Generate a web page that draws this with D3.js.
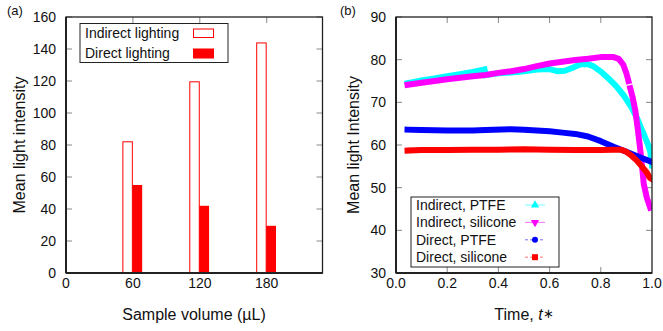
<!DOCTYPE html>
<html><head><meta charset="utf-8">
<script src="https://cdn.jsdelivr.net/npm/d3@7"></script>
<style>
body{margin:0;background:#fff;}
svg text{font-family:"Liberation Sans",Arial,Helvetica,sans-serif;fill:#111;}
</style></head>
<body><svg id="c" width="663" height="331"></svg>
<script>
// ---------- Panel (a) data ----------
const volumes = [60, 120, 180];
const indirectLighting = [82, 119.5, 143.8];
const directLighting = [55, 42, 29.5];
const aXTicks = [0, 60, 120, 180];
const aYTicks = [0, 20, 40, 60, 80, 100, 120, 140, 160];

// ---------- Panel (b) data: [t*, intensity] ----------
const indirectPTFE = [
  [0.045,74.5],[0.1,75.1],[0.15,75.6],[0.2,76.1],[0.25,76.6],[0.3,77.1],[0.346,77.7],[null,null],
  [0.35,76.4],[0.4,76.8],[0.45,77.0],[0.5,77.3],[0.55,77.7],[0.6,77.8],[0.63,77.3],[0.66,77.4],
  [0.69,78.1],[0.72,78.9],[0.745,79.0],[0.77,78.5],[0.8,77.2],[0.83,75.6],[0.86,73.8],[0.89,71.6],
  [0.92,68.8],[0.94,66.5],[0.96,63.6],[0.98,60.8],[0.993,58.5],[1.0,55.2]
];
const indirectSilicone = [
  [0.045,74.1],[0.1,74.6],[0.2,75.4],[0.3,76.1],[0.35,76.4],[0.4,76.9],[0.45,77.3],[0.5,77.8],
  [0.55,78.5],[0.6,79.1],[0.65,79.5],[0.7,79.9],[0.75,80.2],[0.8,80.6],[0.85,80.6],[0.87,80.2],
  [0.888,78.8],[0.9,76.8],[0.908,75.0],[null,null],[0.915,73.3],[0.925,71.0],[0.935,68.0],
  [0.945,63.5],[0.954,59.0],[0.962,54.5],[0.968,50.8],[0.98,47.6],[0.993,45.3]
];
const directPTFE = [
  [0.045,63.6],[0.1,63.5],[0.2,63.4],[0.3,63.4],[0.35,63.5],[0.45,63.7],[0.5,63.6],[0.6,63.2],
  [0.65,62.9],[0.7,62.6],[0.75,62.0],[0.8,60.9],[0.85,59.6],[0.9,58.4],[0.95,57.2],[1.0,56.0]
];
const directSilicone = [
  [0.045,58.7],[0.1,58.8],[0.2,58.8],[0.3,58.9],[0.4,58.9],[0.5,59.0],[0.6,58.9],[0.7,58.8],
  [0.8,58.8],[0.85,58.9],[0.88,58.9],[0.9,58.4],[0.92,57.5],[0.94,56.4],[0.96,55.0],[0.98,53.5],
  [0.99,52.4],[1.0,52.0]
];
const bXTicks = [0, 0.2, 0.4, 0.6, 0.8, 1.0];
const bYTicks = [30, 40, 50, 60, 70, 80, 90];

const seriesB = [
  {name:"Indirect, PTFE", data:indirectPTFE, color:"#00ffff", marker:"triangleUp", dash:null},
  {name:"Indirect, silicone", data:indirectSilicone, color:"#ff00ff", marker:"triangleDown", dash:null},
  {name:"Direct, PTFE", data:directPTFE, color:"#0000ff", marker:"circle", dash:"3,2"},
  {name:"Direct, silicone", data:directSilicone, color:"#ff0000", marker:"square", dash:"3,2"}
];

const svg = d3.select("#c");
const AX = "#222", TK = "#888";

function frame(g, x, y, xt, yt, fmtX, fmtY, mirrorX) {
  const [x0,x1] = x.range(), [y0,y1] = y.range();
  // ticks (inward)
  yt.forEach(v=>{
    g.append("line").attr("x1",x0).attr("x2",x0+6).attr("y1",y(v)).attr("y2",y(v)).attr("stroke",TK).attr("stroke-width",1);
    g.append("line").attr("x1",x1).attr("x2",x1-6).attr("y1",y(v)).attr("y2",y(v)).attr("stroke",TK).attr("stroke-width",1);
    g.append("text").attr("x",x0-10).attr("y",y(v)).attr("text-anchor","end").attr("dy","0.36em").attr("font-size",14).text(fmtY(v));
  });
  xt.forEach(v=>{
    if (mirrorX(v)) {
      g.append("line").attr("x1",x(v)).attr("x2",x(v)).attr("y1",y0).attr("y2",y0-6).attr("stroke",TK).attr("stroke-width",1);
      g.append("line").attr("x1",x(v)).attr("x2",x(v)).attr("y1",y1).attr("y2",y1+6).attr("stroke",TK).attr("stroke-width",1);
    }
    g.append("text").attr("x",x(v)).attr("y",y0+15).attr("text-anchor","middle").attr("font-size",14).text(fmtX(v));
  });
}
function border(g, x, y) {
  const [x0,x1] = x.range(), [y0,y1] = y.range();
  g.append("rect").attr("x",x0).attr("y",y1).attr("width",x1-x0).attr("height",y0-y1)
    .attr("fill","none").attr("stroke",AX).attr("stroke-width",1.3);
  g.append("line").attr("x1",x0).attr("x2",x1).attr("y1",y0).attr("y2",y0).attr("stroke",AX).attr("stroke-width",2);
  g.append("line").attr("x1",x0).attr("x2",x0).attr("y1",y0).attr("y2",y1).attr("stroke",AX).attr("stroke-width",2);
}

// ================= Panel (a) =================
{
  const g = svg.append("g");
  const x = d3.scaleLinear().domain([0,230]).range([66,322.5]);
  const y = d3.scaleLinear().domain([0,160]).range([273,17]);
  frame(g, x, y, aXTicks, aYTicks, d3.format("d"), d3.format("d"), v=>v>0);
  const bw = 8.5, off = 0.5;
  volumes.forEach((v,i)=>{
    g.append("rect").attr("x",x(v-bw-off)).attr("y",y(indirectLighting[i]))
      .attr("width",x(v-off)-x(v-bw-off)).attr("height",y(0)-y(indirectLighting[i]))
      .attr("fill","#fff").attr("stroke","#ff0000").attr("stroke-width",1);
    g.append("rect").attr("x",x(v-off)).attr("y",y(directLighting[i]))
      .attr("width",x(v-off+bw+0.3)-x(v-off)).attr("height",y(0)-y(directLighting[i]))
      .attr("fill","#ff0000");
  });
  border(g, x, y);
  // legend
  const L = g.append("g");
  L.append("rect").attr("x",80).attr("y",23.5).attr("width",148).attr("height",39).attr("fill","#fff").attr("stroke",AX).attr("stroke-width",1);
  L.append("text").attr("x",85).attr("y",38).attr("font-size",14).text("Indirect lighting");
  L.append("text").attr("x",85).attr("y",57.5).attr("font-size",14).text("Direct lighting");
  L.append("rect").attr("x",193.5).attr("y",29).attr("width",20).attr("height",8.5).attr("fill","#fff").attr("stroke","#ff0000").attr("stroke-width",1);
  L.append("rect").attr("x",193).attr("y",48.5).attr("width",21).attr("height",10).attr("fill","#ff0000");
  // titles
  g.append("text").attr("transform","translate(25,145) rotate(-90)").attr("text-anchor","middle").attr("font-size",16).text("Mean light intensity");
  g.append("text").attr("x",194).attr("y",320).attr("text-anchor","middle").attr("font-size",16).text("Sample volume (\u00b5L)");
  g.append("text").attr("x",7).attr("y",15).attr("font-size",13).text("(a)");
}

// ================= Panel (b) =================
{
  const g = svg.append("g");
  const x = d3.scaleLinear().domain([0,1]).range([396,652]);
  const y = d3.scaleLinear().domain([30,90]).range([273,17]);
  frame(g, x, y, bXTicks, bYTicks, d3.format(".1f"), d3.format("d"), v=>v>0 && v<1);
  const line = d3.line().defined(d=>d[0]!=null).x(d=>x(d[0])).y(d=>y(d[1]));
  const clipId = "clipb";
  svg.append("defs").append("clipPath").attr("id",clipId).append("rect")
    .attr("x",396).attr("y",17).attr("width",256).attr("height",256);
  const cg = g.append("g").attr("clip-path",`url(#${clipId})`);
  seriesB.forEach(s=>{
    cg.append("path").attr("d",line(s.data)).attr("fill","none").attr("stroke",s.color)
      .attr("stroke-width",6).attr("stroke-linejoin","round").attr("stroke-linecap","square");
  });
  border(g, x, y);
  // legend
  const L = g.append("g");
  L.append("rect").attr("x",411).attr("y",197).attr("width",148).attr("height",70).attr("fill","#fff").attr("stroke",AX).attr("stroke-width",1);
  const sym = {
    triangleUp: d3.symbol().type(d3.symbolTriangle).size(30),
    triangleDown: d3.symbol().type(d3.symbolTriangle).size(30),
    circle: d3.symbol().type(d3.symbolCircle).size(28),
    square: d3.symbol().type(d3.symbolSquare).size(36)
  };
  seriesB.forEach((s,i)=>{
    const by = 210 + i*17.4;
    const my = by - 5;
    L.append("text").attr("x",416).attr("y",by).attr("font-size",14).text(s.name);
    L.append("line").attr("x1",525).attr("x2",545).attr("y1",my).attr("y2",my)
      .attr("stroke",s.color).attr("stroke-width",0.8).attr("stroke-opacity",0.7)
      .attr("stroke-dasharray",s.dash);
    L.append("path").attr("d",sym[s.marker]())
      .attr("transform",`translate(535,${my})` + (s.marker==="triangleDown"?" rotate(180)":""))
      .attr("fill",s.color);
  });
  // titles
  g.append("text").attr("transform","translate(359,145) rotate(-90)").attr("text-anchor","middle").attr("font-size",16).text("Mean light Intensity");
  const xt = g.append("text").attr("x",524).attr("y",320).attr("text-anchor","middle").attr("font-size",16);
  xt.append("tspan").text("Time, ");
  xt.append("tspan").attr("font-style","italic").text("t");
  xt.append("tspan").attr("font-size",13).attr("dy",-2).text("\u2217");
  g.append("text").attr("x",340).attr("y",15).attr("font-size",13).text("(b)");
}
</script></body></html>
